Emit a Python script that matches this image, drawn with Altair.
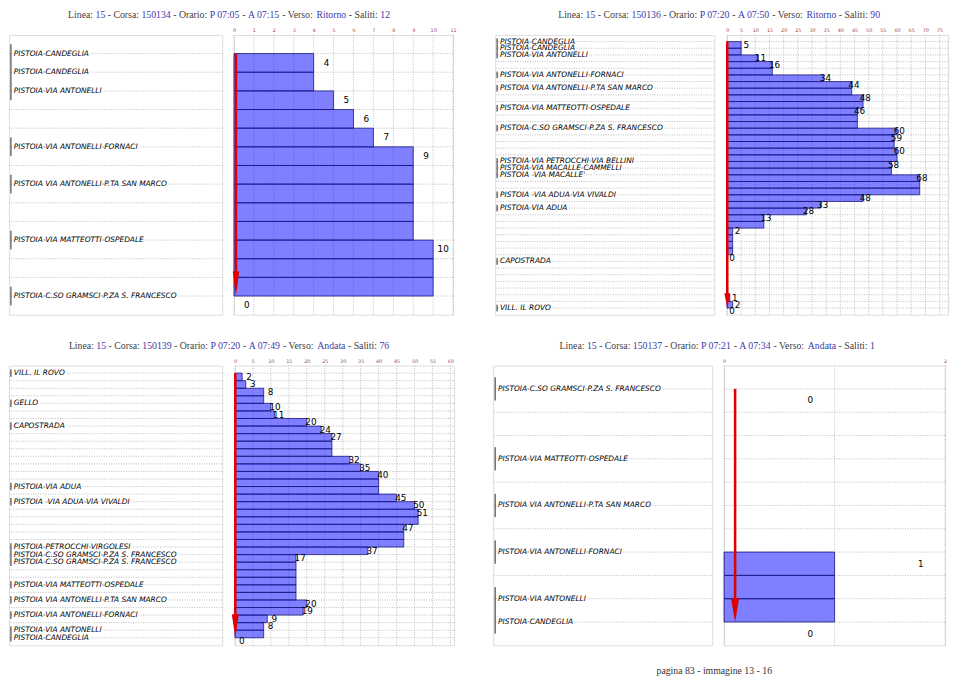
import altair as alt
import pandas as pd

# ---------------- data ----------------
# titles: linea, corsa, partenza, arrivo, verso, saliti
P1_TITLE = ["15", "150134", "P 07:05", "A 07:15", "Ritorno", "12"]
P2_TITLE = ["15", "150136", "P 07:20", "A 07:50", "Ritorno", "90"]
P3_TITLE = ["15", "150139", "P 07:20", "A 07:49", "Andata", "76"]
P4_TITLE = ["15", "150137", "P 07:21", "A 07:34", "Andata", "1"]
FOOTER = "pagina 83 - immagine 13 - 16"

# passengers on board on each segment between consecutive stops
P1_LOADS = [4, 4, 5, 6, 7, 9, 9, 9, 9, 9, 10, 10, 10]
P1_STOP_ROWS = [0, 1, 2, 5, 7, 10, 13]
P1_STOP_NAMES = ["PISTOIA-CANDEGLIA", "PISTOIA-CANDEGLIA", "PISTOIA-VIA ANTONELLI",
                 "PISTOIA-VIA ANTONELLI-FORNACI", "PISTOIA VIA ANTONELLI-P.TA SAN MARCO",
                 "PISTOIA-VIA MATTEOTTI-OSPEDALE", "PISTOIA-C.SO GRAMSCI-P.ZA S. FRANCESCO"]
P1_XMAX = 11
P1_TICKS = list(range(0, 12, 1))

P2_LOADS = [5, 5, 11, 16, 16, 34, 44, 44, 48, 48, 46, 46, 46, 60, 59, 59, 60, 60, 58, 58,
            68, 68, 68, 48, 33, 28, 13, 13, 2, 2, 2, 2, 0, 0, 0, 0, 0, 0, 1, 2]
P2_STOP_ROWS = [0, 1, 2, 5, 7, 10, 13, 18, 19, 20, 23, 25, 33, 40]
P2_STOP_NAMES = ["PISTOIA-CANDEGLIA", "PISTOIA-CANDEGLIA", "PISTOIA-VIA ANTONELLI",
                 "PISTOIA-VIA ANTONELLI-FORNACI", "PISTOIA VIA ANTONELLI-P.TA SAN MARCO",
                 "PISTOIA-VIA MATTEOTTI-OSPEDALE", "PISTOIA-C.SO GRAMSCI-P.ZA S. FRANCESCO",
                 "PISTOIA-VIA PETROCCHI-VIA BELLINI", "PISTOIA-VIA MACALLE-CAMMELLI",
                 "PISTOIA -VIA MACALLE'", "PISTOIA -VIA ADUA-VIA VIVALDI", "PISTOIA-VIA ADUA",
                 "CAPOSTRADA", "VILL. IL ROVO"]
P2_XMAX = 78
P2_TICKS = list(range(0, 80, 5))

P3_LOADS = [2, 3, 8, 8, 10, 11, 20, 24, 27, 27, 27, 32, 35, 40, 40, 40, 45, 50, 51, 51,
            47, 47, 47, 37, 17, 17, 17, 17, 17, 17, 20, 19, 9, 8, 8]
P3_STOP_ROWS = [0, 4, 7, 15, 17, 23, 24, 25, 28, 30, 32, 34, 35]
P3_STOP_NAMES = ["VILL. IL ROVO", "GELLO", "CAPOSTRADA", "PISTOIA-VIA ADUA",
                 "PISTOIA -VIA ADUA-VIA VIVALDI", "PISTOIA-PETROCCHI-VIRGOLESI",
                 "PISTOIA-C.SO GRAMSCI-P.ZA S. FRANCESCO", "PISTOIA-C.SO GRAMSCI-P.ZA S. FRANCESCO",
                 "PISTOIA-VIA MATTEOTTI-OSPEDALE", "PISTOIA VIA ANTONELLI-P.TA SAN MARCO",
                 "PISTOIA-VIA ANTONELLI-FORNACI", "PISTOIA-VIA ANTONELLI", "PISTOIA-CANDEGLIA"]
P3_XMAX = 61
P3_TICKS = list(range(0, 65, 5))

P4_LOADS = [0, 0, 0, 0, 0, 0, 0, 1, 1, 1]
P4_STOP_ROWS = [0, 3, 5, 7, 9, 10]
P4_STOP_NAMES = ["PISTOIA-C.SO GRAMSCI-P.ZA S. FRANCESCO", "PISTOIA-VIA MATTEOTTI-OSPEDALE",
                 "PISTOIA VIA ANTONELLI-P.TA SAN MARCO", "PISTOIA-VIA ANTONELLI-FORNACI",
                 "PISTOIA-VIA ANTONELLI", "PISTOIA-CANDEGLIA"]
P4_XMAX = 2
P4_TICKS = [0, 1, 2]

# ---------------- style ----------------
SERIF = "Liberation Serif"
SANS = "DejaVu Sans"
T_GRAY = "#404040"
T_BLUE = "#3a3aa8"
GRID = "#a0a0a0"
RED = "#e00000"
TICKC = "#a04848"
BORDER = "#707070"
NAME_FS = 7.6
BOX_H = 286
S_IN = 8
GAP = 38
L1, R1 = 218, 224
L2, R2 = 224, 226

TIMES = {" ": 250, ":": 278, "-": 333, ".": 250, "A": 722, "C": 667, "L": 611, "O": 722,
         "P": 556, "R": 667, "S": 556, "V": 722, "a": 444, "e": 444, "i": 278, "l": 278,
         "n": 500, "o": 500, "r": 333, "s": 389, "t": 278, "d": 500, "g": 500, "m": 778,
         "p": 500}


def tw(s, fs=10):
    return sum(TIMES.get(c, 500) for c in s) * fs / 1000.0


def title_chart(vals, width):
    linea, corsa, p, a, verso, saliti = vals
    segs = [("Linea: ", T_GRAY), (linea, T_BLUE), (" - Corsa: ", T_GRAY), (corsa, T_BLUE),
            (" - Orario: ", T_GRAY), (p, T_BLUE), (" - ", T_GRAY), (a, T_BLUE),
            (" - Verso: ", T_GRAY), (verso, T_BLUE), (" - Saliti: ", T_GRAY), (saliti, T_BLUE)]
    total = sum(tw(s) for s, _ in segs)
    x = (width - total) / 2.0
    rows = []
    for s, c in segs:
        lead = len(s) - len(s.lstrip())
        rows.append({"x": x + tw(s[:lead]), "t": s.strip(), "c": c})
        x += tw(s)
    df = pd.DataFrame(rows)
    return alt.Chart(df).mark_text(align="left", baseline="middle", font=SERIF, fontSize=10).encode(
        x=alt.X("x:Q", scale=alt.Scale(domain=[0, width], nice=False, zero=False), axis=None),
        y=alt.value(5),
        text="t:N",
        color=alt.Color("c:N", scale=None, legend=None),
    ).properties(width=width, height=10, view=alt.ViewBackground(stroke="transparent"))


def yscale(n):
    return alt.Scale(domain=[-1, n + 1], reverse=True, nice=False, zero=False)


def stops_chart(rows, names, n, width):
    ysc = yscale(n)
    grid_df = pd.DataFrame({"r": list(range(n + 1))})
    hgrid = alt.Chart(grid_df).mark_rule(color=GRID, strokeDash=[1, 1.5], strokeWidth=0.7).encode(
        y=alt.Y("r:Q", scale=ysc, axis=None))
    st = pd.DataFrame({"r": rows, "name": names,
                       "lo": [r - 0.5 for r in rows], "hi": [r + 0.5 for r in rows],
                       "x0": [0.0] * len(rows)})
    marks = alt.Chart(st).mark_rule(color="#222222", strokeWidth=1).encode(
        x=alt.value(2), y=alt.Y("lo:Q", scale=ysc, axis=None), y2=alt.Y2("hi"))
    xs = alt.X("x0:Q", scale=alt.Scale(domain=[0, 1], nice=False, zero=False),
               axis=alt.Axis(orient="top", values=[0.5], labelOpacity=0, ticks=False, domain=False,
                             grid=False, labelFontSize=5, labelPadding=2, title=None))
    halo = alt.Chart(st).mark_text(align="left", baseline="middle", dx=5, font=SANS,
                                   fontStyle="italic", fontSize=NAME_FS, color="white",
                                   stroke="white", strokeWidth=3).encode(
        x=xs, y=alt.Y("r:Q", scale=ysc, axis=None), text="name:N")
    txt = alt.Chart(st).mark_text(align="left", baseline="middle", dx=5, font=SANS,
                                  fontStyle="italic", fontSize=NAME_FS, color="black").encode(
        x=xs, y=alt.Y("r:Q", scale=ysc, axis=None), text="name:N")
    return alt.layer(hgrid, marks, halo, txt).properties(width=width, height=BOX_H)


def load_chart(loads, xmax, ticks, width, dx, head_px, head_w):
    n = len(loads)
    ysc = yscale(n)
    xsc = alt.Scale(domain=[0, xmax], nice=False, zero=False)
    xax = alt.Axis(orient="top", values=ticks, labelFontSize=5, labelColor=TICKC, labelPadding=2,
                   ticks=False, domain=False, grid=False, title=None, labelFont=SANS,
                   labelFlush=False, labelOverlap=False, format="d")

    def X(f):
        return alt.X(f, type="quantitative", scale=xsc, axis=xax)

    def Y(f):
        return alt.Y(f, type="quantitative", scale=ysc, axis=None)

    vgrid = alt.Chart(pd.DataFrame({"t": ticks})).mark_rule(
        color=GRID, strokeDash=[1, 1.5], strokeWidth=0.7).encode(x=X("t"))
    hgrid = alt.Chart(pd.DataFrame({"r": list(range(n + 1))})).mark_rule(
        color=GRID, strokeDash=[1, 1.5], strokeWidth=0.7).encode(y=Y("r"))
    bars_df = pd.DataFrame({"y0": list(range(n)), "y1": [i + 1 for i in range(n)],
                            "x0": [0.0] * n, "v": loads})
    bars_df = bars_df[bars_df["v"] > 0]
    bars = alt.Chart(bars_df).mark_rect(color="#0000ff", fillOpacity=0.5, stroke="#1a1a80",
                                        strokeWidth=0.8).encode(
        x=X("x0"), x2=alt.X2("v"), y=Y("y0"), y2=alt.Y2("y1"))
    lab = []
    for i, v in enumerate(loads):
        if i == 0 or v != loads[i - 1]:
            lab.append({"ym": i + 0.5, "v": v, "t": str(v)})
    lab.append({"ym": n + 0.5, "v": 0, "t": "0"})
    labels = alt.Chart(pd.DataFrame(lab)).mark_text(
        align="right", baseline="middle", dx=dx, font=SANS, fontSize=9, color="black").encode(
        x=X("v"), y=Y("ym"), text="t:N")
    row_px = BOX_H / (n + 2.0)
    shaft = alt.Chart(pd.DataFrame({"ax": [0.1], "a0": [0.0], "a1": [n - 0.5 * head_px / row_px]})
                      ).mark_rule(color=RED, strokeWidth=2.6).encode(
        x=X("ax"), y=Y("a0"), y2=alt.Y2("a1"))
    head = alt.Chart(pd.DataFrame({"ax": [0.1], "ay": [float(n)]})).mark_point(
        shape="M-%.3f,-1L%.3f,-1L0,0Z" % (head_w, head_w), filled=True, size=4 * head_px ** 2,
        color=RED, opacity=1, strokeWidth=0).encode(x=X("ax"), y=Y("ay"))
    return alt.layer(vgrid, hgrid, bars, labels, shaft, head).properties(width=width, height=BOX_H)


def panel(title, rows, names, loads, xmax, ticks, lw, rw, dx, head_px, head_w):
    body = alt.hconcat(stops_chart(rows, names, len(loads), lw),
                       load_chart(loads, xmax, ticks, rw, dx, head_px, head_w), spacing=S_IN)
    return alt.vconcat(title_chart(title, lw + S_IN + rw), body, spacing=6)


p1 = panel(P1_TITLE, P1_STOP_ROWS, P1_STOP_NAMES, P1_LOADS, P1_XMAX, P1_TICKS, L1, R1, 16, 25, 0.13)
p2 = panel(P2_TITLE, P2_STOP_ROWS, P2_STOP_NAMES, P2_LOADS, P2_XMAX, P2_TICKS, L2, R2, 8, 15, 0.2)
p3 = panel(P3_TITLE, P3_STOP_ROWS, P3_STOP_NAMES, P3_LOADS, P3_XMAX, P3_TICKS, L1, R1, 10, 24, 0.15)
p4 = panel(P4_TITLE, P4_STOP_ROWS, P4_STOP_NAMES, P4_LOADS, P4_XMAX, P4_TICKS, L2, R2, 91, 24, 0.17)

row1 = alt.hconcat(p1, p2, spacing=GAP)
row2 = alt.hconcat(p3, p4, spacing=GAP)

col2_x = L1 + S_IN + R1 + GAP + 4
total_w = col2_x + L2 + S_IN + R2
foot_x = col2_x + (L2 + S_IN + R2) / 2.0
footer = alt.Chart(pd.DataFrame({"x": [foot_x], "t": [FOOTER]})).mark_text(
    align="center", baseline="middle", font=SERIF, fontSize=10, color="#333333").encode(
    x=alt.X("x:Q", scale=alt.Scale(domain=[0, total_w], nice=False, zero=False), axis=None),
    y=alt.value(5), text="t:N").properties(width=total_w, height=10,
                                          view=alt.ViewBackground(stroke="transparent"))

chart = alt.vconcat(alt.vconcat(row1, row2, spacing=23), footer, spacing=18).properties(
    padding={"left": 0, "top": -6, "right": 2, "bottom": 0}
).configure_view(stroke=BORDER, strokeWidth=1.4).configure(background="white")

chart.save("out.html", embed_options={"renderer": "svg", "actions": False})
